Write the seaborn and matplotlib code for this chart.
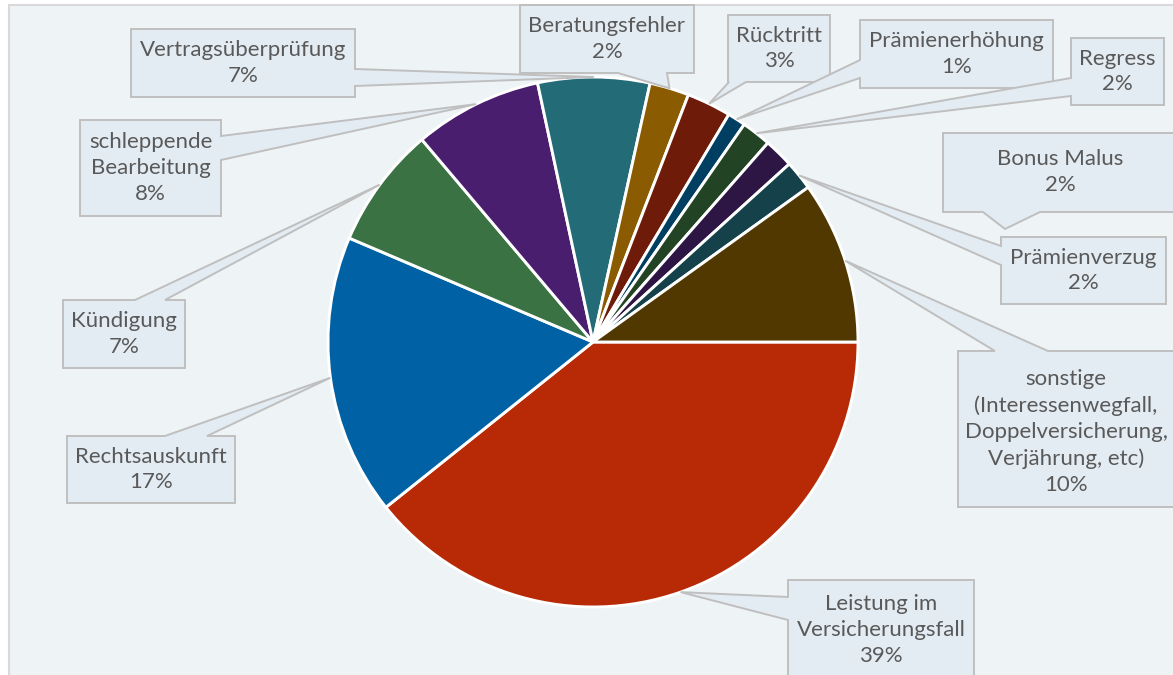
import matplotlib
matplotlib.use("Agg")
import matplotlib.pyplot as plt
from matplotlib.patches import Polygon, Rectangle
import numpy as np
import seaborn as sns

# ---- data ----
categories = ["Leistung im\nVersicherungsfall", "Rechtsauskunft", "Kündigung",
              "schleppende\nBearbeitung", "Vertragsüberprüfung", "Beratungsfehler",
              "Rücktritt", "Prämienerhöhung", "Regress", "Bonus Malus",
              "Prämienverzug",
              "sonstige\n(Interessenwegfall,\nDoppelversicherung,\nVerjährung, etc)"]
values = [39.2, 17.1, 7.4, 7.8, 6.8, 2.4, 2.7, 1.1, 1.8, 1.8, 1.8, 9.9]
colors = ["#B82A06", "#0062A4", "#3A7243", "#4A1E6E", "#236C77", "#8A5B00",
          "#6E1B09", "#003F62", "#224424", "#2D1544", "#15424A", "#513700"]

# ---- layout (pixel space, y down) ----
W, H = 1173, 675
center = (593, 342)
radius = 265
# box: (x0, y0, x1, y1), base edge, base span
boxes = [
    ((788, 580, 974, 690), "left", (597, 620)),
    ((67, 436, 235, 503), "top", (165, 207)),
    ((63, 300, 185, 368), "top", (135, 165)),
    ((80, 120, 221, 216), "right", (136, 160)),
    ((131, 29, 355, 97), "right", (69, 86)),
    ((520, 5, 694, 73), "bottom", (618, 667)),
    ((728, 15, 830, 82), "bottom", (729, 746)),
    ((860, 20, 1053, 88), "left", (60, 78)),
    ((1071, 38, 1164, 105), "left", (78, 96)),
    ((943, 133, 1185, 212), "bottom", (983, 1040)),
    ((1001, 237, 1166, 304), "left", (246, 265)),
    ((958, 351, 1185, 507), "top", (995, 1048)),
]
tip_override = {9: (1005, 229)}
text_centers = {0: (881, 630), 9: (1060, 172), 11: (1066, 432)}

sns.set_style("white")
plt.rcParams["font.family"] = ["Lato", "DejaVu Sans"]

bg = "#EEF3F6"
box_fc = "#E4ECF3"
box_ec = "#BFBFBF"
txt_c = "#595959"

fig = plt.figure(figsize=(W / 100, H / 100), dpi=100)
fig.patch.set_facecolor("white")
ax = fig.add_axes([0, 0, 1, 1])

pal = sns.color_palette(colors)
wedges, _ = ax.pie(values, colors=pal, startangle=0, counterclock=True,
                   center=center, radius=radius,
                   wedgeprops=dict(edgecolor="white", linewidth=2.1))
for w in wedges:
    w.set_zorder(2)
ax.set_xlim(0, W)
ax.set_ylim(H, 0)
ax.set_aspect("equal")
ax.axis("off")

ax.add_patch(Rectangle((9, 5), W + 20, H + 20, facecolor=bg, edgecolor="#D9D9D9",
                       linewidth=1.5, zorder=0))

total = sum(values)
cum = np.cumsum([0] + values)
for i, (cat, v) in enumerate(zip(categories, values)):
    mid = np.deg2rad((cum[i] + v / 2) / total * 360)
    tip = (center[0] + radius * np.cos(mid), center[1] + radius * np.sin(mid))
    if i in tip_override:
        tip = tip_override[i]
    (x0, y0, x1, y1), edge, (a, b) = boxes[i]
    pts = [(x0, y0)]
    if edge == "top":
        pts += [(a, y0), tip, (b, y0)]
    pts.append((x1, y0))
    if edge == "right":
        pts += [(x1, a), tip, (x1, b)]
    pts.append((x1, y1))
    if edge == "bottom":
        pts += [(b, y1), tip, (a, y1)]
    pts.append((x0, y1))
    if edge == "left":
        pts += [(x0, b), tip, (x0, a)]
    ax.add_patch(Polygon(pts, closed=True, facecolor=box_fc, edgecolor=box_ec,
                         linewidth=1.4, zorder=3))
    pct = round(v / total * 100)
    label = f"{cat}\n{pct}%"
    cx, cy = text_centers.get(i, ((x0 + x1) / 2, (y0 + y1) / 2))
    ax.text(cx, cy, label, ha="center", va="center", fontsize=16, color=txt_c,
            linespacing=1.37, zorder=4)

fig.savefig("out.png", dpi=100, facecolor="white")
